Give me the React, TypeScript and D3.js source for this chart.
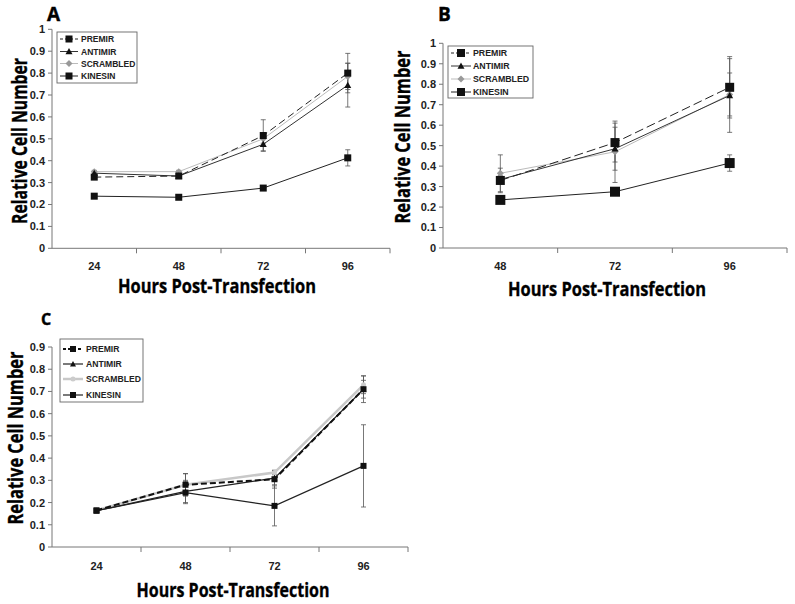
import React from 'react';
import * as d3 from 'd3';

const seriesNames = ['PREMIR', 'ANTIMIR', 'SCRAMBLED', 'KINESIN'];

// panel A
const hoursA = ['24', '48', '72', '96'];
const premirA = [0.325, 0.33, 0.515, 0.8];
const premirErrA = [0.008, 0.008, 0.072, 0.09];
const antimirA = [0.343, 0.33, 0.475, 0.745];
const antimirErrA = [0.008, 0.008, 0.03, 0.1];
const scrambledA = [0.35, 0.35, 0.5, 0.785];
const scrambledErrA = [0.006, 0.006, 0.02, 0.06];
const kinesinA = [0.238, 0.233, 0.275, 0.413];
const kinesinErrA = [0.005, 0.005, 0.006, 0.037];

// panel B
const hoursB = ['48', '72', '96'];
const premirB = [0.33, 0.515, 0.785];
const premirErrB = [0.06, 0.095, 0.15];
const antimirB = [0.335, 0.485, 0.745];
const antimirErrB = [0.02, 0.105, 0.18];
const scrambledB = [0.365, 0.47, 0.75];
const scrambledErrB = [0.09, 0.15, 0.105];
const kinesinB = [0.235, 0.275, 0.415];
const kinesinErrB = [0.005, 0.006, 0.04];

// panel C
const hoursC = ['24', '48', '72', '96'];
const premirC = [0.165, 0.28, 0.305, 0.71];
const premirErrC = [0.005, 0.05, 0.04, 0.06];
const antimirC = [0.163, 0.25, 0.31, 0.71];
const antimirErrC = [0.005, 0.05, 0.03, 0.04];
const scrambledC = [0.165, 0.28, 0.335, 0.73];
const scrambledErrC = [0.005, 0.05, 0.01, 0.04];
const kinesinC = [0.163, 0.245, 0.185, 0.365];
const kinesinErrC = [0.005, 0.05, 0.09, 0.185];

const tickFont = '"Liberation Sans", Arial, sans-serif';
const titleFont = '"Open Sans", "DejaVu Sans", sans-serif';

type Style = { stroke: string; width: number; dash?: string; marker: string; size: number; fill: string };

const Marker = ({ kind, x, y, size, fill }: { kind: string; x: number; y: number; size: number; fill: string }) => {
  const h = size / 2;
  if (kind === 'square') return <rect x={x - h} y={y - h} width={size} height={size} fill={fill} />;
  if (kind === 'triangle')
    return <path d={`M${x},${y - h}L${x + h},${y + h * 0.8}L${x - h},${y + h * 0.8}Z`} fill={fill} />;
  if (kind === 'diamond') return <path d={`M${x},${y - h}L${x + h},${y}L${x},${y + h}L${x - h},${y}Z`} fill={fill} />;
  return <circle cx={x} cy={y} r={h} fill={fill} />;
};

const Panel = ({ cfg }: { cfg: any }) => {
  const x = d3.scaleBand().domain(cfg.hours).range([cfg.left, cfg.right]);
  const y = d3.scaleLinear().domain([0, cfg.yMax]).range([cfg.y0, cfg.yTop]);
  const bw = x.bandwidth();
  const cx = (h: string) => (x(h) as number) + bw / 2;
  const yTicks = d3.range(0, cfg.yMax + 0.001, 0.1);
  const boundaries = [...cfg.hours.map((h: string) => x(h) as number).slice(1), cfg.right];
  const line = d3.line<number>().x((_, i) => cx(cfg.hours[i])).y(d => y(d));
  const order = [2, 1, 3, 0];
  const lg = cfg.legend;

  return (
    <g>
      <text x={cfg.letter[0]} y={cfg.letter[1]} fontFamily={titleFont} fontWeight={700} fontSize={cfg.letter[2]}
        stroke="#000" strokeWidth={0.4}>
        {cfg.label}
      </text>
      {/* y axis */}
      <line x1={cfg.left} x2={cfg.left} y1={cfg.y0} y2={cfg.yTop} stroke="#777" />
      {yTicks.map(t => (
        <g key={t}>
          <line x1={cfg.left - 4} x2={cfg.left} y1={y(t)} y2={y(t)} stroke="#777" />
          <text x={cfg.left - 7} y={y(t)} dy="0.36em" textAnchor="end" fontFamily={tickFont} fontWeight={700}
            fontSize={11} fill="#222">
            {d3.format('.1~f')(t)}
          </text>
        </g>
      ))}
      {/* x axis */}
      <line x1={cfg.left} x2={cfg.right} y1={cfg.y0} y2={cfg.y0} stroke="#777" />
      {boundaries.map((b: number) => (
        <line key={b} x1={b} x2={b} y1={cfg.y0} y2={cfg.y0 + 5} stroke="#777" />
      ))}
      {cfg.hours.map((h: string) => (
        <text key={h} x={cx(h)} y={cfg.tickY} textAnchor="middle" fontFamily={tickFont} fontWeight={700}
          fontSize={11} fill="#222">
          {h}
        </text>
      ))}
      <text x={cfg.xTitle[0]} y={cfg.xTitle[1]} textAnchor="middle" fontFamily={titleFont} fontWeight={700}
        fontSize={19.5} textLength={cfg.xTitle[2]} lengthAdjust="spacingAndGlyphs" stroke="#000" strokeWidth={0.35}>
        Hours Post-Transfection
      </text>
      <text transform={`translate(${cfg.yTitle[0]},${cfg.yTitle[1]}) rotate(-90)`} textAnchor="middle"
        dy="0.35em" fontFamily={titleFont} fontWeight={700} fontSize={20.5} textLength={cfg.yTitle[2]}
        lengthAdjust="spacingAndGlyphs" stroke="#000" strokeWidth={0.35}>
        Relative Cell Number
      </text>
      {/* error bars */}
      {order.map(si =>
        cfg.values[si].map((v: number, i: number) => {
          const e = cfg.errors[si][i];
          const px = cx(cfg.hours[i]);
          return (
            <g key={`e${si}-${i}`} stroke="#555" strokeWidth={0.8}>
              <line x1={px} x2={px} y1={y(v - e)} y2={y(v + e)} />
              <line x1={px - 2.5} x2={px + 2.5} y1={y(v - e)} y2={y(v - e)} />
              <line x1={px - 2.5} x2={px + 2.5} y1={y(v + e)} y2={y(v + e)} />
            </g>
          );
        })
      )}
      {/* lines and markers */}
      {order.map(si => {
        const st: Style = cfg.styles[si];
        return (
          <g key={`s${si}`}>
            <path d={line(cfg.values[si]) as string} fill="none" stroke={st.stroke} strokeWidth={st.width}
              strokeDasharray={st.dash} />
            {cfg.values[si].map((v: number, i: number) => (
              <Marker key={i} kind={st.marker} x={cx(cfg.hours[i])} y={y(v)} size={st.size} fill={st.fill} />
            ))}
          </g>
        );
      })}
      {/* legend */}
      <rect x={lg.x} y={lg.y} width={lg.w} height={lg.h} fill="#fff" stroke="#666" strokeWidth={0.9} />
      {seriesNames.map((name, si) => {
        const st: Style = cfg.styles[si];
        const ry = lg.rows[si];
        return (
          <g key={name}>
            <line x1={lg.x + 3} x2={lg.x + 3 + lg.lineLen} y1={ry} y2={ry} stroke={st.stroke} strokeWidth={st.width}
              strokeDasharray={st.dash ? '3,2' : undefined} />
            <Marker kind={st.marker} x={lg.x + 3 + lg.lineLen / 2} y={ry} size={Math.min(st.size, lg.markerMax)}
              fill={st.fill} />
            <text x={lg.textX} y={ry} dy="0.36em" fontFamily={tickFont} fontWeight={700} fontSize={lg.font}
              fill="#222">
              {name}
            </text>
          </g>
        );
      })}
    </g>
  );
};

const stylesA: Style[] = [
  { stroke: '#222', width: 1, dash: '7,4', marker: 'square', size: 7, fill: '#111' },
  { stroke: '#333', width: 1, marker: 'triangle', size: 7, fill: '#111' },
  { stroke: '#bbb', width: 1, marker: 'diamond', size: 7, fill: '#999' },
  { stroke: '#222', width: 1, marker: 'square', size: 7, fill: '#111' },
];
const stylesB: Style[] = [
  { stroke: '#222', width: 1, dash: '9,4', marker: 'square', size: 9, fill: '#111' },
  { stroke: '#333', width: 1, marker: 'triangle', size: 7, fill: '#111' },
  { stroke: '#bbb', width: 1, marker: 'diamond', size: 7, fill: '#999' },
  { stroke: '#222', width: 1, marker: 'square', size: 10, fill: '#111' },
];
const stylesC: Style[] = [
  { stroke: '#111', width: 2, dash: '6,3', marker: 'square', size: 6, fill: '#111' },
  { stroke: '#222', width: 1.2, marker: 'triangle', size: 6, fill: '#111' },
  { stroke: '#c8c8c8', width: 2.5, marker: 'circle', size: 5, fill: '#ccc' },
  { stroke: '#222', width: 1.2, marker: 'square', size: 6, fill: '#111' },
];

const panels = [
  {
    label: 'A', letter: [47, 21, 19], hours: hoursA, left: 52, right: 390, y0: 248.3, yTop: 29.3, yMax: 1,
    tickY: 269.5, xTitle: [217, 292.5, 198], yTitle: [20, 141, 166],
    values: [premirA, antimirA, scrambledA, kinesinA],
    errors: [premirErrA, antimirErrA, scrambledErrA, kinesinErrA], styles: stylesA,
    legend: { x: 57, y: 32, w: 80, h: 51, rows: [39, 51.5, 63.5, 76], lineLen: 18, textX: 81, font: 8.5, markerMax: 7 },
  },
  {
    label: 'B', letter: [438, 21, 19], hours: hoursB, left: 443, right: 787, y0: 248, yTop: 43.3, yMax: 1,
    tickY: 269.5, xTitle: [607, 295.5, 198], yTitle: [403, 137, 173],
    values: [premirB, antimirB, scrambledB, kinesinB],
    errors: [premirErrB, antimirErrB, scrambledErrB, kinesinErrB], styles: stylesB,
    legend: { x: 448, y: 46, w: 85, h: 52, rows: [53, 66, 79, 92], lineLen: 20, textX: 473, font: 8.8, markerMax: 8 },
  },
  {
    label: 'C', letter: [41, 325, 16], hours: hoursC, left: 52, right: 408, y0: 547, yTop: 347, yMax: 0.9,
    tickY: 570, xTitle: [233, 596.5, 193], yTitle: [16, 438, 173],
    values: [premirC, antimirC, scrambledC, kinesinC],
    errors: [premirErrC, antimirErrC, scrambledErrC, kinesinErrC], styles: stylesC,
    legend: { x: 60, y: 339, w: 83, h: 63, rows: [349, 364, 379, 395], lineLen: 20, textX: 86, font: 8.6, markerMax: 6 },
  },
];

export default function App() {
  return (
    <svg width={795} height={604} style={{ position: 'absolute', left: 0, top: 0, background: '#fff' }}>
      {panels.map(p => (
        <Panel key={p.label} cfg={p} />
      ))}
    </svg>
  );
}
